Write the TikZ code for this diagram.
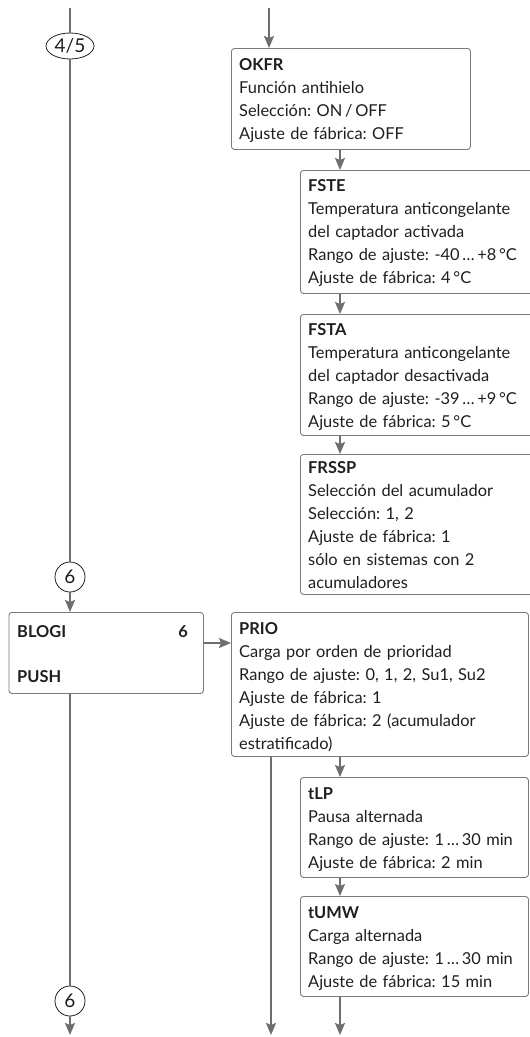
\documentclass[tikz,border=0pt]{standalone}
\usepackage{fontspec}
\setmainfont{Lato}
\frenchspacing
\usetikzlibrary{arrows.meta,shapes.geometric}
\definecolor{linegray}{HTML}{6E6E6E}
\definecolor{boxgray}{HTML}{7A7A7A}
\definecolor{ink}{HTML}{1E1E1E}
\newcommand{\fs}{\fontsize{16.4}{23}\selectfont}
\newcommand{\fc}{\fontsize{19}{21}\selectfont}
\newcommand{\tstrut}{\rule{0pt}{14pt}}
\tikzset{
  box/.style={draw=boxgray, line width=0.9pt, rounded corners=3pt, anchor=north west, inner sep=0pt},
  txt/.style={anchor=north west, inner sep=0pt, text width=300pt, align=left, font=\fs, text=ink},
  lbl/.style={inner sep=0pt, font=\fs, text=ink},
  ln/.style={draw=linegray, line width=1.6pt},
  arr/.style={ln, -{Stealth[length=12pt,width=10pt,inset=2pt]}},
  conn/.style={draw=ink, line width=0.8pt, inner sep=0pt, font=\fc, text=ink}
}
\begin{document}
\begin{tikzpicture}[x=1pt,y=-1pt]
\useasboundingbox (0,0) rectangle (530,1037);
% boxes
\node[box, minimum width=239pt, minimum height=101pt] (okfr) at (231,48) {};
\node[box, minimum width=240pt, minimum height=123pt] (fste) at (300,170) {};
\node[box, minimum width=240pt, minimum height=121pt] (fsta) at (300,314) {};
\node[box, minimum width=240pt, minimum height=140pt] (frssp) at (300,454) {};
\node[box, minimum width=194.5pt, minimum height=81pt] (blogi) at (8.5,612) {};
\node[box, minimum width=297pt, minimum height=144pt] (prio) at (231,612) {};
\node[box, minimum width=228pt, minimum height=100pt] (tlp) at (300,777) {};
\node[box, minimum width=228pt, minimum height=100pt] (tumw) at (300,896) {};
% texts
\node[txt] (okfrT) at (239,56) {\tstrut\textbf{OKFR}\\Función antihielo\\Selección: ON\,/\,OFF\\Ajuste de fábrica: OFF};
\node[txt] (fsteT) at (308,177) {\tstrut\textbf{FSTE}\\Temperatura anticongelante\\del captador activada\\Rango de ajuste: -40\,…\,+8\,°C\\Ajuste de fábrica: 4\,°C};
\node[txt] (fstaT) at (308,321) {\tstrut\textbf{FSTA}\\Temperatura anticongelante\\del captador desactivada\\Rango de ajuste: -39\,…\,+9\,°C\\Ajuste de fábrica: 5\,°C};
\node[txt] (frsspT) at (308,459) {\tstrut\textbf{FRSSP}\\Selección del acumulador\\Selección: 1, 2\\Ajuste de fábrica: 1\\sólo en sistemas con 2\\acumuladores};
\node[txt] (prioT) at (239,620) {\tstrut\textbf{PRIO}\\Carga por orden de prioridad\\Rango de ajuste: 0, 1, 2, Su1, Su2\\Ajuste de fábrica: 1\\Ajuste de fábrica: 2 (acumulador\\estratificado)};
\node[txt] (tlpT) at (308,785) {\tstrut\textbf{tLP}\\Pausa alternada\\Rango de ajuste: 1\,…\,30 min\\Ajuste de fábrica: 2 min};
\node[txt] (tumwT) at (308,904) {\tstrut\textbf{tUMW}\\Carga alternada\\Rango de ajuste: 1\,…\,30 min\\Ajuste de fábrica: 15 min};
\node[lbl, anchor=base west] (blogiT) at (17,637) {\textbf{BLOGI}};
\node[lbl, anchor=base east] (blogiN) at (188,637) {\textbf{6}};
\node[lbl, anchor=base west] (pushT) at (17,682) {\textbf{PUSH}};
% connector symbols
\node[conn, ellipse, draw, minimum width=48pt, minimum height=26pt] (c45) at (70,46) {4/5};
\node[conn, circle, draw, minimum size=30pt] (c6a) at (70,577) {6};
\node[conn, circle, draw, minimum size=30pt] (c6b) at (70,1001) {6};
% coordinates
\coordinate (lt) at (70,8);
\coordinate (rt) at (269,8);
\coordinate (ax) at (340,0);
\coordinate (ay) at (0,643);
\coordinate (pb) at (271,1035);
\coordinate (ub) at (340,1035);
\coordinate (lb) at (70,1035);
% connectors
\draw[ln] (lt) -- (c45.north);
\draw[ln] (c45.south) -- (c6a.north);
\draw[arr] (c6a.south) -- (c6a.south |- blogi.north);
\draw[ln] (blogi.south -| c6b) -- (c6b.north);
\draw[arr] (c6b.south) -- (lb);
\draw[arr] (rt) -- (rt |- okfr.north);
\draw[arr] (okfr.south -| ax) -- (fste.north -| ax);
\draw[arr] (fste.south -| ax) -- (fsta.north -| ax);
\draw[arr] (fsta.south -| ax) -- (frssp.north -| ax);
\draw[arr] (blogi.east |- ay) -- (prio.west |- ay);
\draw[arr] (prio.south -| pb) -- (pb);
\draw[arr] (prio.south -| ax) -- (tlp.north -| ax);
\draw[arr] (tlp.south -| ax) -- (tumw.north -| ax);
\draw[arr] (tumw.south -| ub) -- (ub);
\end{tikzpicture}
\end{document}
